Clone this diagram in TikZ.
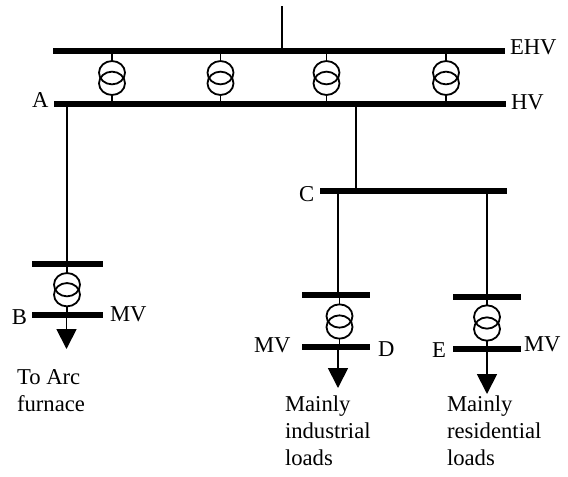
\documentclass[tikz,border=0pt]{standalone}
\usepackage{fontspec}
\setmainfont{Liberation Serif}
\usetikzlibrary{arrows.meta,shapes.geometric}
\begin{document}
\begin{tikzpicture}[x=0.75pt,y=-0.75pt]
    \tikzstyle{bus}=[fill=black,inner sep=0pt,outer sep=0pt,minimum height=4.5pt];
    \tikzstyle{winding}=[draw,line width=1.35pt,shape=ellipse,inner sep=0pt,outer sep=0pt,minimum width=19.5pt,minimum height=17.5pt];
    \tikzstyle{feeder}=[line width=1.35pt];
    \tikzstyle{load}=[line width=1.35pt,-{Triangle[width=15pt,length=15pt,sep=0pt]}];
    \tikzstyle{lbl}=[inner sep=0pt,outer sep=0pt,anchor=base west,font=\fontsize{17}{20}\selectfont];
    \tikzstyle{note}=[inner sep=0pt,outer sep=0pt,anchor=north west,align=left,font=\fontsize{17}{20}\selectfont];
    \useasboundingbox (0,0) rectangle (568,476);
    %buses
    \node[bus,minimum width=339pt] (ehv) at (279,51) {};
    \node[bus,minimum width=339pt] (hv) at (280,104) {};
    \node[bus,minimum width=140pt] (c) at (413.5,190.5) {};
    \node[bus,minimum width=53pt] (b1) at (67.5,264) {};
    \node[bus,minimum width=53pt] (b2) at (67.5,315) {};
    \node[bus,minimum width=51pt] (d1) at (336,295) {};
    \node[bus,minimum width=51pt] (d2) at (336,347) {};
    \node[bus,minimum width=51pt] (e1) at (487,297) {};
    \node[bus,minimum width=51pt] (e2) at (487,349) {};
    %transformers
    \node[winding] (t1u) at (112,72.7) {};
    \node[winding] (t1l) at (112,83.3) {};
    \node[winding] (t2u) at (220.5,72.7) {};
    \node[winding] (t2l) at (220.5,83.3) {};
    \node[winding] (t3u) at (326.5,72.7) {};
    \node[winding] (t3l) at (326.5,83.3) {};
    \node[winding] (t4u) at (446,72.7) {};
    \node[winding] (t4l) at (446,83.3) {};
    \node[winding] (tbu) at (67,284.7) {};
    \node[winding] (tbl) at (67,294.7) {};
    \node[winding] (tdu) at (339.5,316) {};
    \node[winding] (tdl) at (339.5,327) {};
    \node[winding] (teu) at (487,317) {};
    \node[winding] (tel) at (487,329) {};
    %free ends
    \coordinate (top) at (282,6);
    \coordinate (tipb) at (66.5,349);
    \coordinate (tipd) at (338,388);
    \coordinate (tipe) at (487,394);
    %lines
    \draw[feeder] (top) -- (top |- ehv.north)
    (t1u.north) -- (t1u.north |- ehv.south)
    (t1l.south) -- (t1l.south |- hv.north)
    (t2u.north) -- (t2u.north |- ehv.south)
    (t2l.south) -- (t2l.south |- hv.north)
    (t3u.north) -- (t3u.north |- ehv.south)
    (t3l.south) -- (t3l.south |- hv.north)
    (t4u.north) -- (t4u.north |- ehv.south)
    (t4l.south) -- (t4l.south |- hv.north)
    (tbu.north |- hv.south) -- (tbu.north |- b1.north)
    (tbu.north) -- (tbu.north |- b1.south)
    (tbl.south) -- (tbl.south |- b2.north)
    (tipd |- c.south) -- (tipd |- d1.north)
    (tdu.north) -- (tdu.north |- d1.south)
    (tdl.south) -- (tdl.south |- d2.north)
    (tipe |- c.south) -- (tipe |- e1.north)
    (teu.north) -- (teu.north |- e1.south)
    (tel.south) -- (tel.south |- e2.north);
    \draw[feeder] (356,107) -- (356,188);
    \draw[load] (tipb |- b2.south) -- (tipb);
    \draw[load] (tipd |- d2.south) -- (tipd);
    \draw[load] (tipe |- e2.south) -- (tipe);
    %labels
    \node[lbl] (lehv) at (510,54) {EHV};
    \node[lbl] (lhv) at (511,109.5) {HV};
    \node[lbl] (la) at (32,107) {A};
    \node[lbl] (lc) at (299,201) {C};
    \node[lbl] (lb) at (12,324) {B};
    \node[lbl] (lmvb) at (110,321) {MV};
    \node[lbl] (lmvd) at (254,352) {MV};
    \node[lbl] (ld) at (378,356) {D};
    \node[lbl] (le) at (432,357) {E};
    \node[lbl] (lmve) at (524,351) {MV};
    \node[note] (arc) at (17,370) {To Arc\\furnace};
    \node[note] (ind) at (285,396) {Mainly\\industrial\\loads};
    \node[note] (res) at (447,396) {Mainly\\residential\\loads};
  \end{tikzpicture}
\end{document}
